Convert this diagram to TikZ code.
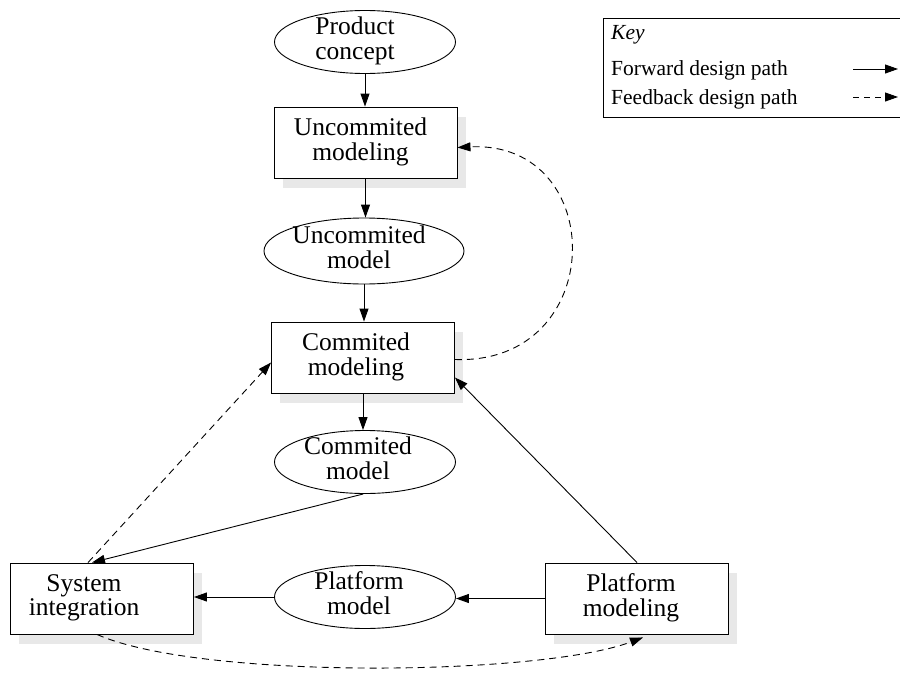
\documentclass[tikz,border=0pt]{standalone}
\usepackage{fontspec}
\setmainfont{Liberation Serif}
\usetikzlibrary{arrows.meta,shapes.geometric,shadows}

% two centred lines, nudged left by half of the right padding
\newcommand\nodelines[3]{\begin{tabular}{@{}c@{\hspace{#1}}}#2\\#3\end{tabular}}

\tikzset{
  every picture/.style={x=1pt,y=-1pt},
  lbl/.style={font=\fontsize{25.5}{24.5}\selectfont},
  stage/.style={lbl, draw=black, line width=0.9pt, fill=white, rectangle,
    minimum width=183pt, minimum height=71pt, inner sep=0pt,
    drop shadow={shadow xshift=8.5pt, shadow yshift=-9.5pt, fill=black!9, opacity=1}},
  artefact/.style={lbl, draw=black, line width=0.9pt, fill=white, ellipse,
    minimum width=181pt, minimum height=63pt, inner sep=-3pt},
  fwd/.style={line width=0.9pt, -{Triangle[length=13pt,width=9pt]}},
  fbk/.style={line width=0.9pt, dash pattern=on 7pt off 5pt, -{Triangle[length=13pt,width=9pt]}},
  keytext/.style={font=\fontsize{21.5}{22}\selectfont, anchor=base west, inner sep=0pt},
}

\begin{document}
\begin{tikzpicture}
\useasboundingbox (0,0) rectangle (900,675);

% design stages and artefacts
\node[artefact] (pc)   at (365,42)    {\nodelines{20pt}{Product}{concept}};
\node[stage]    (um)   at (365.5,142.5) {\nodelines{10pt}{Uncommited}{modeling}};
\node[artefact, minimum width=200pt, minimum height=66pt] (ucm) at (364,251) {\nodelines{10pt}{Uncommited}{model}};
\node[stage]    (cm)   at (363,357.5) {\nodelines{14pt}{Commited}{modeling}};
\node[artefact] (cmod) at (365,462)   {\nodelines{14pt}{Commited}{model}};
\node[stage]    (sys)  at (102,598.5) {\nodelines{36pt}{System}{integration}};
\node[artefact] (pmod) at (365,597)   {\nodelines{12pt}{Platform}{model}};
\node[stage]    (pm)   at (637,598.5) {\nodelines{12pt}{Platform}{modeling}};

% forward design path
\draw[fwd] (pc.south) -- (pc.south |- um.north);
\draw[fwd] (um.south) -- (um.south |- ucm.north);
\draw[fwd] (ucm.south) -- (ucm.south |- cm.north);
\draw[fwd] (cm.south) -- (cm.south |- cmod.north);
\draw[fwd] (cmod.-93) -- ([xshift=-10pt]sys.north);
\draw[fwd] (pmod.west) -- (pmod.west -| sys.east);
\draw[fwd] (pm.west) -- (pm.west -| pmod.east);
\draw[fwd] (pm.north) -- ([yshift=-20pt]cm.east);

% feedback design path
\draw[fbk] ([xshift=-14pt]sys.north) -- ([yshift=-5pt]cm.west);
\draw[fbk] ([yshift=-2pt]cm.east) .. controls (609,365) and (609,140) .. ([yshift=-5pt]um.east);
\draw[fbk] ([xshift=-5pt]sys.south) .. controls (200,680) and (540,676) .. ([xshift=6pt,yshift=-3pt]pm.south);

% key
\node[draw=black, line width=0.9pt, rectangle, minimum width=302pt, minimum height=99pt,
  inner sep=0pt] (key) at (754,67.5) {};
\node[keytext] (keyhead) at (611,39)  {\itshape Key};
\node[keytext] (keyfwd)  at (611,75)  {Forward design path};
\node[keytext] (keyfbk)  at (611,104) {Feedback design path};
\coordinate (fwdA) at (853,69);
\coordinate (fwdB) at (898,69);
\coordinate (fbkA) at (853,97);
\coordinate (fbkB) at (898,97);
\draw[fwd] (fwdA) -- (fwdB);
\draw[fbk, dash pattern=on 6pt off 5pt] (fbkA) -- (fbkB);
\end{tikzpicture}
\end{document}
